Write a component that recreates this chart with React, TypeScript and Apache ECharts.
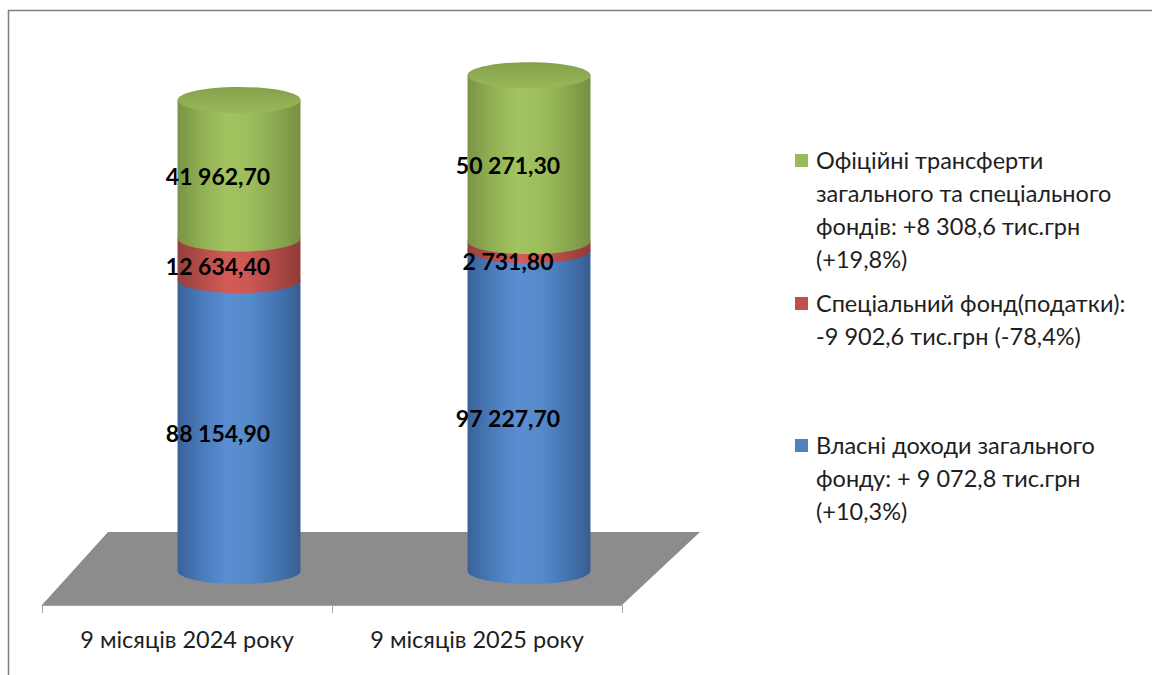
import React, { useEffect, useRef } from "react";
import * as echarts from "echarts";

const categories = ["9 місяців 2024 року", "9 місяців 2025 року"];
const ownRevenue = [88154.9, 97227.7];
const specialFund = [12634.4, 2731.8];
const transfers = [41962.7, 50271.3];

const seriesNames = [
  "Власні доходи загального фонду: + 9 072,8 тис.грн (+10,3%)",
  "Спеціальний фонд(податки): -9 902,6 тис.грн (-78,4%)",
  "Офіційні трансферти загального та спеціального фондів: +8 308,6 тис.грн (+19,8%)",
];
const legendLines = [
  "Офіційні трансферти\nзагального та спеціального\nфондів: +8 308,6 тис.грн\n(+19,8%)",
  "Спеціальний фонд(податки):\n-9 902,6 тис.грн (-78,4%)",
  "Власні доходи загального\nфонду: + 9 072,8 тис.грн\n(+10,3%)",
];

const FONT = "Lato, 'Open Sans', sans-serif";
const DX = 52;
const DY = -34;
const RY = 13;

function fmt(v: number): string {
  const [i, d] = v.toFixed(2).split(".");
  return i.replace(/\B(?=(\d{3})+(?!\d))/g, " ") + "," + d;
}

function grad(stops: string[]) {
  return new echarts.graphic.LinearGradient(
    0, 0, 1, 0,
    stops.map((c, k) => ({ offset: k / (stops.length - 1), color: c }))
  );
}

const blueStops = ["#3a6299", "#4a7bbb", "#5a8ed2", "#558ac9", "#4575b3", "#385e93"];
const redStops = ["#93403d", "#b44d4a", "#d15b57", "#cb5652", "#ad4845", "#8e3b38"];
const greenStops = ["#7a9444", "#91b053", "#a3c361", "#9dbd5c", "#8ba94f", "#778f42"];

function makeRender(stops: string[], isTop: boolean) {
  return (params: any, api: any) => {
    const cat = api.value(0);
    const base = api.value(1);
    const top = api.value(2);
    const val = api.value(3);
    const p0 = api.coord([cat, base]);
    const p1 = api.coord([cat, top]);
    const w = api.size([1, 0])[0] * 0.424;
    const rx = w / 2;
    const cx = p0[0] + DX;
    const yb = p0[1] + DY;
    const yt = p1[1] + DY;
    const children: any[] = [
      { type: "ellipse", shape: { cx, cy: yb, rx, ry: RY }, style: { fill: grad(stops) } },
      { type: "rect", shape: { x: cx - rx, y: yt, width: w, height: yb - yt }, style: { fill: grad(stops) } },
    ];
    if (isTop) {
      children.push({
        type: "ellipse",
        shape: { cx, cy: yt, rx, ry: RY },
        style: {
          fill: new echarts.graphic.LinearGradient(0, 0, 0, 1, [
            { offset: 0, color: "#84a14a" },
            { offset: 1, color: "#9ab859" },
          ]),
        },
      });
    }
    children.push({
      type: "text",
      z2: 100,
      style: {
        x: cx - 21,
        y: Math.max((yt + yb) / 2 + 7, yt + 20),
        text: fmt(val),
        font: `bold 23px ${FONT}`,
        fill: "#000",
        align: "center",
        verticalAlign: "middle",
      },
    });
    return { type: "group", children };
  };
}

export default function App() {
  const ref = useRef<HTMLDivElement>(null);
  useEffect(() => {
    if (!ref.current) return;
    const chart = echarts.init(ref.current, undefined, { renderer: "svg" });
    const blueData = categories.map((_, i) => [i, 0, ownRevenue[i], ownRevenue[i]]);
    const redData = categories.map((_, i) => [i, ownRevenue[i], ownRevenue[i] + specialFund[i], specialFund[i]]);
    const greenData = categories.map((_, i) => [
      i,
      ownRevenue[i] + specialFund[i],
      ownRevenue[i] + specialFund[i] + transfers[i],
      transfers[i],
    ]);
    const legendColors = ["#9bbb59", "#c0504d", "#4f81bd"];
    const legendY = [143.5, 286.5, 428.5];
    const legendSq = [154, 297, 439];
    const graphicEls: any[] = [
      {
        type: "polygon",
        z: -1,
        shape: { points: [[42, 605], [108, 532], [700, 532], [622, 605]] },
        style: { fill: "#8c8c8c" },
      },
      {
        type: "polyline",
        shape: { points: [[8.5, 675], [8.5, 10.5], [1152, 10.5]] },
        style: { stroke: "#7f7f7f", lineWidth: 1.5, fill: "none" },
      },
    ];
    legendLines.forEach((t, k) => {
      graphicEls.push({
        type: "rect",
        shape: { x: 795, y: legendSq[k], width: 13, height: 13 },
        style: { fill: legendColors[k] },
      });
      graphicEls.push({
        type: "text",
        style: {
          x: 816,
          y: legendY[k],
          text: t,
          font: `23.5px ${FONT}`,
          lineHeight: 33,
          fill: "#1e1e1e",
          align: "left",
          verticalAlign: "top",
        },
      });
    });
    chart.setOption({
      animation: false,
      backgroundColor: "#fff",
      grid: { left: 42, right: 530, top: 77, bottom: 70 },
      xAxis: {
        type: "category",
        data: categories,
        z: 5,
        axisLine: { lineStyle: { color: "#a6a6a6", width: 1 } },
        axisTick: { show: true, length: 8, lineStyle: { color: "#a6a6a6" } },
        axisLabel: { fontSize: 23.5, fontFamily: FONT, color: "#1e1e1e", margin: 22 },
      },
      yAxis: { type: "value", min: 0, max: 160000, show: false, splitLine: { show: false } },
      series: [
        { type: "custom", name: seriesNames[0], renderItem: makeRender(blueStops, false), encode: { x: 0, y: [1, 2] }, data: blueData },
        { type: "custom", name: seriesNames[1], renderItem: makeRender(redStops, false), encode: { x: 0, y: [1, 2] }, data: redData },
        { type: "custom", name: seriesNames[2], renderItem: makeRender(greenStops, true), encode: { x: 0, y: [1, 2] }, data: greenData },
      ],
      graphic: { elements: graphicEls },
    });
    return () => chart.dispose();
  }, []);
  return (
    <div
      ref={ref}
      style={{ position: "absolute", left: 0, top: 0, width: 1152, height: 675, background: "#fff" }}
    />
  );
}
